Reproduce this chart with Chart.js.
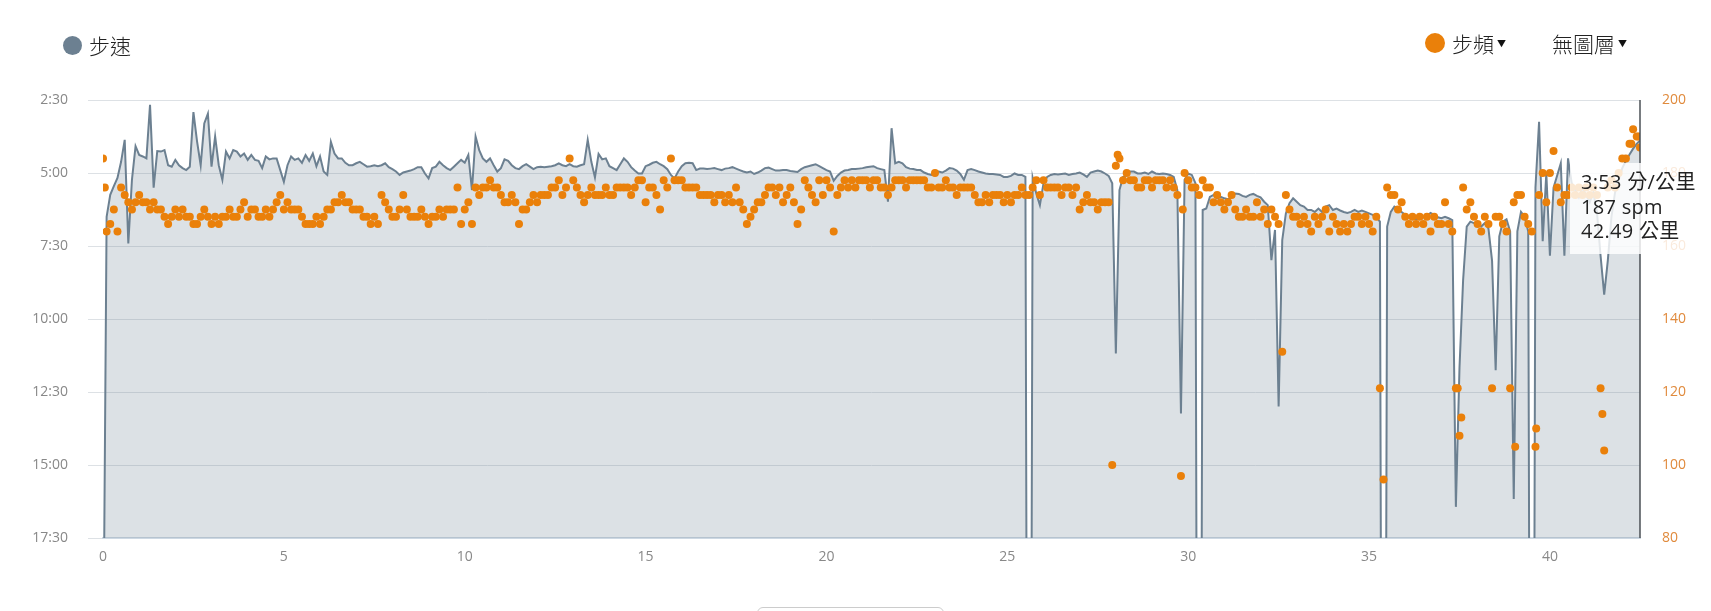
<!DOCTYPE html>
<html>
<head>
<meta charset="utf-8">
<script src="https://cdn.jsdelivr.net/npm/chart.js@4.4.1/dist/chart.umd.min.js"></script>
<style>
  html, body { margin: 0; padding: 0; background: #fff; }
  #wrap { position: relative; width: 1711px; height: 611px; overflow: hidden; }
  #box { position: absolute; left: 0; top: 0; width: 1711px; height: 611px; }
  .lg { position: absolute; display: flex; align-items: center; height: 24px;
        font-family: 'Noto Sans CJK TC', sans-serif; font-size: 21px; font-weight: 300; color: #222; }
  .dot { display: inline-block; width: 19px; height: 19px; border-radius: 50%; margin-right: 7px; }
  .caret { font-size: 9px; margin-left: 3px; color: #111; }
  #tip { position: absolute; left: 1570px; top: 163px; width: 160px; padding: 7px 10px 10px 11px;
         background: rgba(255,255,255,0.82); color: #222; font-size: 20px; line-height: 24.5px;
         font-family: 'Open Sans', 'Noto Sans CJK TC', sans-serif; letter-spacing: 0.3px; white-space: nowrap; }
  #btn { position: absolute; left: 757px; top: 607px; width: 185px; height: 30px;
         border: 1px solid #ccc; border-radius: 6px; background: #fff; }
</style>
</head>
<body>
<div id="wrap">
  <div id="box"><canvas id="paceChart"></canvas></div>
  <div class="lg" style="left:63px; top:33px;"><span class="dot" style="background:#6c8091"></span>步速</div>
  <div class="lg" style="left:1425px; top:31px;"><span class="dot" style="background:#ea800a; width:20px; height:20px;"></span>步頻<span class="caret">▼</span></div>
  <div class="lg" style="left:1552px; top:31px;">無圖層<span class="caret">▼</span></div>
  <div id="tip">3:53 分/公里<br>187 spm<br>42.49 公里</div>
  <div id="btn"></div>
</div>
<script>
// 步速 (秒/公里), 每 0.1 公里一點, 最後一點在 42.49 公里
var PACE = [
  1400, 390, 345, 327, 310, 277, 232, 445, 314, 245,
  263, 266, 270, 160, 330, 255, 256, 253, 284, 287,
  273, 284, 290, 294, 287, 175, 235, 284, 198, 178,
  287, 225, 284, 314, 256, 270, 253, 256, 266, 260,
  273, 263, 273, 275, 290, 266, 272, 270, 270, 294,
  318, 284, 266, 273, 270, 279, 263, 275, 260, 286,
  266, 297, 304, 236, 260, 270, 270, 279, 284, 284,
  280, 277, 282, 287, 286, 284, 286, 284, 280, 288,
  292, 297, 304, 299, 297, 295, 292, 288, 288, 301,
  311, 290, 287, 277, 284, 290, 294, 287, 280, 273,
  279, 263, 335, 225, 253, 270, 277, 270, 284, 297,
  290, 272, 275, 284, 290, 292, 286, 282, 287, 292,
  288, 287, 288, 287, 286, 284, 280, 284, 286, 282,
  286, 287, 284, 282, 232, 277, 309, 261, 272, 270,
  286, 290, 294, 282, 270, 277, 288, 295, 301, 301,
  286, 283, 279, 277, 282, 286, 292, 304, 311, 297,
  286, 280, 279, 280, 294, 291, 291, 292, 291, 290,
  292, 294, 291, 290, 288, 291, 294, 297, 299, 297,
  302, 299, 295, 290, 289, 292, 295, 295, 294, 294,
  296, 297, 298, 292, 288, 286, 284, 282, 286, 290,
  294, 297, 316, 306, 299, 295, 294, 292, 292, 291,
  290, 288, 287, 286, 290, 292, 294, 359, 208, 280,
  277, 280, 288, 291, 292, 294, 294, 299, 302, 304,
  298, 297, 299, 295, 290, 291, 295, 302, 314, 294,
  292, 294, 297, 299, 301, 302, 302, 303, 304, 308,
  308, 306, 301, 304, 304, 308, 3000, 310, 342, 366,
  321, 308, 304, 302, 303, 302, 301, 304, 302, 301,
  299, 303, 308, 299, 297, 295, 297, 301, 306, 321,
  671, 335, 308, 304, 297, 297, 301, 301, 299, 302,
  297, 301, 302, 301, 302, 304, 308, 335, 794, 314,
  301, 304, 321, 3000, 376, 373, 349, 345, 352, 349,
  352, 354, 349, 342, 343, 347, 349, 345, 343, 347,
  350, 359, 366, 479, 417, 780, 438, 383, 362, 352,
  359, 366, 369, 376, 376, 380, 373, 380, 369, 366,
  376, 373, 377, 380, 382, 380, 376, 380, 377, 380,
  383, 386, 390, 400, 3000, 410, 380, 369, 373, 380,
  386, 390, 393, 395, 393, 390, 388, 382, 386, 391,
  393, 390, 393, 397, 986, 700, 520, 410, 400, 403,
  407, 410, 403, 414, 480, 705, 430, 400, 395, 420,
  970, 420, 380, 390, 420, 3000, 330, 195, 440, 300,
  470, 330, 305, 280, 470, 270, 320, 335, 350, 330,
  345, 360, 340, 380, 470, 550, 480, 390, 340, 314,
  290, 275, 262, 250, 240, 233
];

// 步頻 (spm), 同樣每 0.1 公里一點
var CADENCE = [
  184, 164, 166, 170, 164, 176, 174, 172, 170, 172,
  174, 172, 172, 170, 172, 170, 170, 168, 166, 168,
  170, 168, 170, 168, 168, 166, 166, 168, 170, 168,
  166, 168, 166, 168, 168, 170, 168, 168, 170, 172,
  168, 170, 170, 168, 168, 170, 168, 170, 172, 174,
  170, 172, 170, 170, 170, 168, 166, 166, 166, 168,
  166, 168, 170, 170, 172, 172, 174, 172, 172, 170,
  170, 170, 168, 168, 166, 168, 166, 174, 172, 170,
  168, 168, 170, 174, 170, 168, 168, 168, 170, 168,
  166, 168, 168, 170, 168, 170, 170, 170, 176, 166,
  170, 172, 166, 176, 174, 176, 176, 178, 176, 176,
  174, 172, 172, 174, 172, 166, 170, 170, 172, 174,
  172, 174, 174, 174, 176, 176, 178, 174, 176, 184,
  178, 176, 174, 172, 174, 176, 174, 174, 174, 176,
  174, 174, 176, 176, 176, 176, 174, 176, 178, 178,
  172, 176, 176, 174, 170, 178, 176, 184, 178, 178,
  178, 176, 176, 176, 176, 174, 174, 174, 174, 172,
  174, 174, 172, 174, 172, 176, 172, 170, 166, 168,
  170, 172, 172, 174, 176, 176, 174, 176, 172, 174,
  176, 172, 166, 170, 178, 176, 174, 172, 178, 174,
  178, 176, 164, 174, 176, 178, 176, 178, 176, 178,
  178, 178, 176, 178, 178, 176, 176, 174, 176, 178,
  178, 178, 176, 178, 178, 178, 178, 178, 176, 176,
  180, 176, 176, 178, 176, 176, 174, 176, 176, 176,
  176, 174, 172, 172, 174, 172, 174, 174, 174, 172,
  174, 172, 174, 174, 176, 174, 174, 176, 178, 174,
  178, 176, 176, 176, 176, 174, 176, 176, 174, 176,
  170, 172, 174, 172, 172, 170, 172, 172, 172, 100,
  182, 184, 178, 180, 178, 178, 176, 176, 178, 178,
  176, 178, 178, 178, 176, 178, 176, 174, 97, 180,
  178, 176, 176, 174, 178, 176, 176, 172, 174, 172,
  170, 172, 174, 170, 168, 168, 170, 168, 168, 172,
  168, 170, 166, 170, 168, 166, 131, 174, 170, 168,
  168, 166, 168, 166, 164, 168, 166, 168, 170, 164,
  168, 166, 164, 166, 164, 166, 168, 168, 166, 168,
  166, 164, 168, 121, 96, 176, 174, 174, 170, 172,
  168, 166, 168, 166, 168, 166, 168, 164, 168, 166,
  166, 172, 166, 164, 121, 108, 176, 170, 172, 168,
  166, 164, 168, 166, 121, 168, 168, 166, 164, 121,
  172, 174, 174, 168, 166, 164, 105, 174, 180, 172,
  180, 186, 176, 172, 174, 174, 176, 174, 176, 174,
  176, 174, 176, 174, 121, 104, 176, 178, 176, 180,
  184, 184, 188, 192, 190, 187
];

// 網格之間多出來的步頻點
var CAD_EXTRA_KM = [0.05, 28.05, 29.85, 37.45, 37.55, 39.04, 39.62, 41.45, 42.25, 42.45];
var CAD_EXTRA    = [176,  185,   170,   121,   113,   105,   110,   114,   188,   190];

var KM_STEP = 0.1;
var LAST_KM = 42.49;
var HOVER_KM = 42.49;

var PACE_MIN = 150, PACE_MAX = 1050, PACE_STEP = 150;   // 2:30 .. 17:30
var CAD_MIN = 80, CAD_MAX = 200, CAD_STEP = 20;
var KM_TICK = 5;

function kmAt(i, n) {
  return i === n - 1 ? LAST_KM : +(i * KM_STEP).toFixed(2);
}

var paceData = PACE.map(function (v, i) { return { x: kmAt(i, PACE.length), y: v }; });
var cadData = CADENCE.map(function (v, i) { return { x: kmAt(i, CADENCE.length), y: v }; });
CAD_EXTRA_KM.forEach(function (k, i) { cadData.push({ x: k, y: CAD_EXTRA[i] }); });

function mmss(v) {
  var m = Math.floor(v / 60), s = v % 60;
  return m + ':' + (s < 10 ? '0' : '') + s;
}

var hoverLine = {
  id: 'hoverLine',
  afterDatasetsDraw: function (chart) {
    var ctx = chart.ctx, area = chart.chartArea;
    var x = chart.scales.x.getPixelForValue(HOVER_KM);
    ctx.save();
    ctx.strokeStyle = '#4b5056';
    ctx.lineWidth = 1.5;
    ctx.beginPath();
    ctx.moveTo(x, area.top);
    ctx.lineTo(x, area.bottom);
    ctx.stroke();
    ctx.restore();
  }
};

Chart.defaults.font.family = "'Open Sans', 'Noto Sans CJK TC', sans-serif";

var paceChart = new Chart(document.getElementById('paceChart').getContext('2d'), {
  type: 'line',
  data: {
    datasets: [{
      label: '步頻',
      type: 'scatter',
      data: cadData,
      yAxisID: 'y1',
      backgroundColor: '#ea800a',
      borderWidth: 0,
      pointRadius: 4,
      order: 1
    }, {
      label: '步速',
      data: paceData,
      yAxisID: 'y',
      borderColor: '#6c8091',
      backgroundColor: 'rgba(108,128,145,0.24)',
      borderWidth: 2,
      fill: 'start',
      pointRadius: 0,
      tension: 0,
      order: 2
    }]
  },
  options: {
    responsive: true,
    maintainAspectRatio: false,
    animation: false,
    events: [],
    layout: { padding: { top: 100, bottom: 33, left: 0, right: 0 } },
    plugins: { legend: { display: false }, tooltip: { enabled: false } },
    scales: {
      x: {
        type: 'linear',
        min: 0,
        max: LAST_KM,
        grid: { display: false, drawTicks: false },
        border: { display: true, color: '#cdd8e3', width: 2 },
        ticks: { stepSize: KM_TICK, includeBounds: false, color: '#888', padding: 11, font: { size: 14 } },
        afterFit: function (s) { s.height = 40; }
      },
      y: {
        position: 'left',
        reverse: true,
        min: PACE_MIN,
        max: PACE_MAX,
        grid: { color: '#dde1e5', lineWidth: 1, drawTicks: true, tickLength: 15 },
        border: { display: false },
        ticks: { stepSize: PACE_STEP, color: '#888', padding: 20, font: { size: 14 },
                 callback: function (v) { return mmss(v); } },
        afterFit: function (s) { s.width = 103; }
      },
      y1: {
        position: 'right',
        min: CAD_MIN,
        max: CAD_MAX,
        grid: { display: false, drawTicks: false },
        border: { display: false },
        ticks: { stepSize: CAD_STEP, color: '#e08a3c', padding: 22, font: { size: 14 } },
        afterFit: function (s) { s.width = 71; }
      }
    }
  },
  plugins: [hoverLine]
});
</script>
</body>
</html>
